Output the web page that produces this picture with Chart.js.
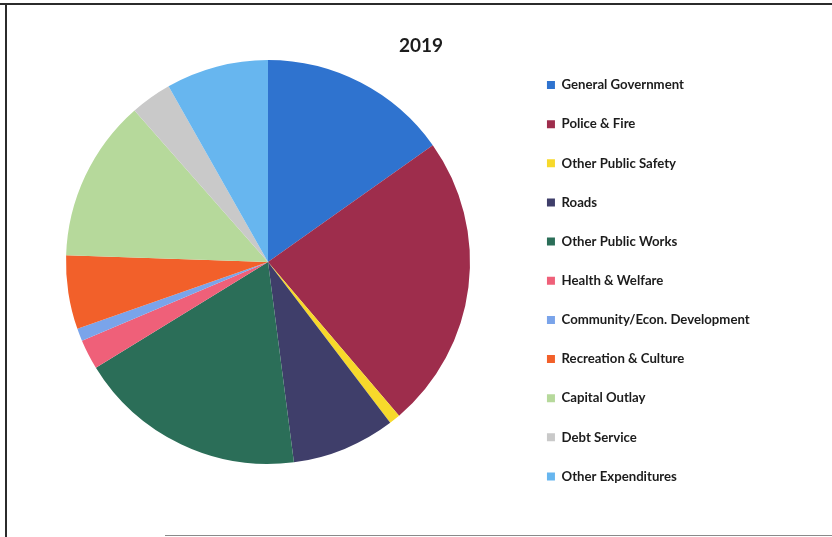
<!DOCTYPE html>
<html>
<head>
<meta charset="utf-8">
<script src="https://cdn.jsdelivr.net/npm/chart.js@4"></script>
<style>
  html, body { margin: 0; padding: 0; background: #fff; width: 832px; height: 537px; overflow: hidden; }
  #c { position: absolute; left: 0; top: 0; }
  .bt { position: absolute; left: 0; top: 3px; width: 832px; height: 2px; background: #2b2b2b; }
  .bl { position: absolute; left: 5px; top: 3px; width: 2px; height: 534px; background: #2b2b2b; }
  .bb { position: absolute; left: 165px; top: 535px; width: 667px; height: 1px; background: #8a8a8a; }
</style>
</head>
<body>
<canvas id="c" width="832" height="537"></canvas>
<div class="bt"></div><div class="bl"></div><div class="bb"></div>
<script>
const chartTitle = '2019';
const categories = [
  'General Government',
  'Police & Fire',
  'Other Public Safety',
  'Roads',
  'Other Public Works',
  'Health & Welfare',
  'Community/Econ. Development',
  'Recreation & Culture',
  'Capital Outlay',
  'Debt Service',
  'Other Expenditures'
];
// share of total (%)
const values = [15.2, 23.6, 0.9, 8.3, 18.3, 2.4, 1.0, 5.9, 13.0, 3.3, 8.2];
const colors = [
  '#2f73cf', '#9e2d4c', '#f7d92b', '#3f3e6a', '#2b6e58', '#ef6079',
  '#7aa4ea', '#f2602a', '#b6d99b', '#c9c9c9', '#67b6ef'
];

const fontSize = 13.2;
const legendFont = { family: 'Lato', size: fontSize, weight: 'bold' };
const rowStep = 39.15;
const legendPad = rowStep - fontSize;
const boxW = 8;

// measure the widest legend label so the legend box lands where the reference has it
const mctx = document.createElement('canvas').getContext('2d');
mctx.font = 'bold ' + fontSize + 'px Lato';
let maxW = 0;
categories.forEach(t => { maxW = Math.max(maxW, mctx.measureText(t).width); });
const legendWidth = legendPad + boxW + fontSize / 2 + maxW + 10;
const legendLeft = 521;
const rightPad = 5;
const spacerWidth = Math.max(0, 832 - rightPad - legendLeft - legendWidth);

new Chart(document.getElementById('c'), {
  type: 'pie',
  data: {
    labels: categories,
    datasets: [{
      data: values,
      backgroundColor: colors,
      borderWidth: 0
    }]
  },
  options: {
    responsive: false,
    animation: false,
    events: [],
    layout: { padding: { left: 15, right: rightPad, top: 0, bottom: 0 } },
    scales: {
      spacer: {
        type: 'linear',
        axis: 'y',
        position: 'right',
        weight: 2000,
        display: true,
        grid: { display: false, drawTicks: false },
        border: { display: false },
        ticks: { display: false },
        afterFit: (s) => { s.width = spacerWidth; }
      }
    },
    plugins: {
      title: {
        display: true,
        text: chartTitle,
        color: '#1c1c1c',
        font: { family: 'Lato', size: 19, weight: 'bold', lineHeight: 1.2 },
        padding: { top: 34, bottom: 3.2 }
      },
      subtitle: {
        display: true,
        text: '',
        position: 'bottom',
        font: { size: 10, lineHeight: 1 },
        padding: { top: 63, bottom: 0 }
      },
      legend: {
        position: 'right',
        align: 'start',
        maxWidth: 400,
        title: {
          display: true,
          text: '',
          font: { size: 10, lineHeight: 1.2 },
          padding: { top: 85 - legendPad - fontSize / 2 - 12, bottom: 0 }
        },
        labels: {
          boxWidth: boxW,
          boxHeight: 8,
          padding: legendPad,
          color: '#1c1c1c',
          font: legendFont
        }
      },
      tooltip: { enabled: false }
    }
  }
});
</script>
</body>
</html>
